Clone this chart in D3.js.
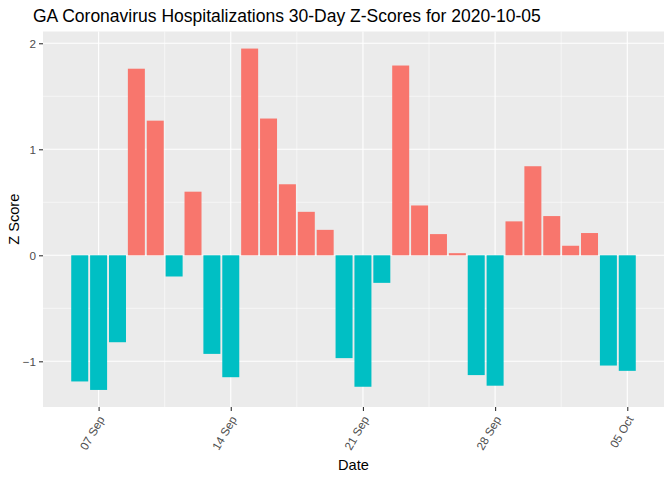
<!DOCTYPE html>
<html lang="en">
  <head>
    <meta charset="utf-8">
    <script src="https://d3js.org/d3.v7.min.js"></script>
    <title>GA Z-Scores</title>
    <style>
      body { margin: 0; background: #fff; }
      text { font-family: "Liberation Sans", Arial, sans-serif; }
    </style>
  </head>
  <body>
    <div id="chart"></div>
    <script>
      // one bar per day, 2020-09-06 .. 2020-10-05
      var dates = ["2020-09-06","2020-09-07","2020-09-08","2020-09-09","2020-09-10",
                   "2020-09-11","2020-09-12","2020-09-13","2020-09-14","2020-09-15",
                   "2020-09-16","2020-09-17","2020-09-18","2020-09-19","2020-09-20",
                   "2020-09-21","2020-09-22","2020-09-23","2020-09-24","2020-09-25",
                   "2020-09-26","2020-09-27","2020-09-28","2020-09-29","2020-09-30",
                   "2020-10-01","2020-10-02","2020-10-03","2020-10-04","2020-10-05"];
      var zScores = [-1.19, -1.27, -0.82, 1.76, 1.27,
                     -0.20, 0.60, -0.93, -1.15, 1.95,
                     1.29, 0.67, 0.41, 0.24, -0.97,
                     -1.24, -0.26, 1.79, 0.47, 0.20,
                     0.02, -1.13, -1.23, 0.32, 0.84,
                     0.37, 0.09, 0.21, -1.04, -1.09];
      var xTicks = ["2020-09-07","2020-09-14","2020-09-21","2020-09-28","2020-10-05"];
      var yTicks = [-1, 0, 1, 2];
      var yMinor = [-0.5, 0.5, 1.5];

      var W = 672, H = 480;
      var margin = {top: 31.5, right: 8, bottom: 73, left: 43};
      var pw = W - margin.left - margin.right,
          ph = H - margin.top - margin.bottom;

      var parse = d3.utcParse("%Y-%m-%d");
      var DAY = 864e5;
      var data = dates.map(function (d, i) { return {date: parse(d), z: zScores[i]}; });

      // ggplot-like 5% expansion
      var x0 = +data[0].date - 0.45 * DAY, x1 = +data[data.length - 1].date + 0.45 * DAY;
      var xpad = (x1 - x0) * 0.05;
      var x = d3.scaleUtc().domain([new Date(x0 - xpad), new Date(x1 + xpad)]).range([0, pw]);
      var ext = d3.extent(zScores), ypad = (ext[1] - ext[0]) * 0.05;
      var y = d3.scaleLinear().domain([ext[0] - ypad, ext[1] + ypad]).range([ph, 0]);

      var svg = d3.select("#chart").append("svg").attr("width", W).attr("height", H);
      var g = svg.append("g").attr("transform", "translate(" + margin.left + "," + margin.top + ")");

      g.append("rect").attr("width", pw).attr("height", ph).attr("fill", "#EBEBEB");

      var tickDates = xTicks.map(parse);
      var xMinor = d3.pairs(tickDates).map(function (p) { return new Date((+p[0] + +p[1]) / 2); });

      // grid
      g.selectAll(".ymin").data(yMinor).enter().append("line")
        .attr("x1", 0).attr("x2", pw).attr("y1", y).attr("y2", y)
        .attr("stroke", "#fff").attr("stroke-width", 0.55);
      g.selectAll(".xmin").data(xMinor).enter().append("line")
        .attr("y1", 0).attr("y2", ph).attr("x1", x).attr("x2", x)
        .attr("stroke", "#fff").attr("stroke-width", 0.55);
      g.selectAll(".ymaj").data(yTicks).enter().append("line")
        .attr("x1", 0).attr("x2", pw).attr("y1", y).attr("y2", y)
        .attr("stroke", "#fff").attr("stroke-width", 1.1);
      g.selectAll(".xmaj").data(tickDates).enter().append("line")
        .attr("y1", 0).attr("y2", ph).attr("x1", x).attr("x2", x)
        .attr("stroke", "#fff").attr("stroke-width", 1.1);

      // bars
      var bw = x(new Date(0.9 * DAY)) - x(new Date(0));
      g.selectAll(".bar").data(data).enter().append("rect")
        .attr("x", function (d) { return x(d.date) - bw / 2; })
        .attr("width", bw)
        .attr("y", function (d) { return y(Math.max(0, d.z)); })
        .attr("height", function (d) { return Math.abs(y(d.z) - y(0)); })
        .attr("fill", function (d) { return d.z > 0 ? "#F8766D" : "#00BFC4"; });

      // axes
      var yAxis = g.append("g").call(d3.axisLeft(y).tickValues(yTicks).tickSize(4).tickPadding(3).tickFormat(d3.format("d")));
      var xAxis = g.append("g").attr("transform", "translate(0," + ph + ")")
        .call(d3.axisBottom(x).tickValues(tickDates).tickSize(4).tickFormat(d3.utcFormat("%d %b")));
      [yAxis, xAxis].forEach(function (a) {
        a.select(".domain").remove();
        a.selectAll(".tick line").attr("stroke", "#333").attr("stroke-width", 1.1);
        a.selectAll("text").attr("fill", "#4D4D4D").style("font-size", "11.7px")
          .style("font-family", "'Liberation Sans', Arial, sans-serif");
      });
      xAxis.selectAll("text")
        .attr("text-anchor", "end").attr("dy", null).attr("y", 0)
        .attr("transform", "translate(6,12) rotate(-60)");

      // titles
      svg.append("text").attr("x", 33).attr("y", 22).style("font-size", "17.5px").attr("fill", "#000")
        .text("GA Coronavirus Hospitalizations 30-Day Z-Scores for 2020-10-05");
      svg.append("text").attr("x", margin.left + pw / 2).attr("y", 470).attr("text-anchor", "middle")
        .style("font-size", "14.6px").text("Date");
      svg.append("text").attr("transform", "translate(19," + (margin.top + ph / 2) + ") rotate(-90)")
        .attr("text-anchor", "middle").style("font-size", "14.6px").text("Z Score");
    </script>
  </body>
</html>
